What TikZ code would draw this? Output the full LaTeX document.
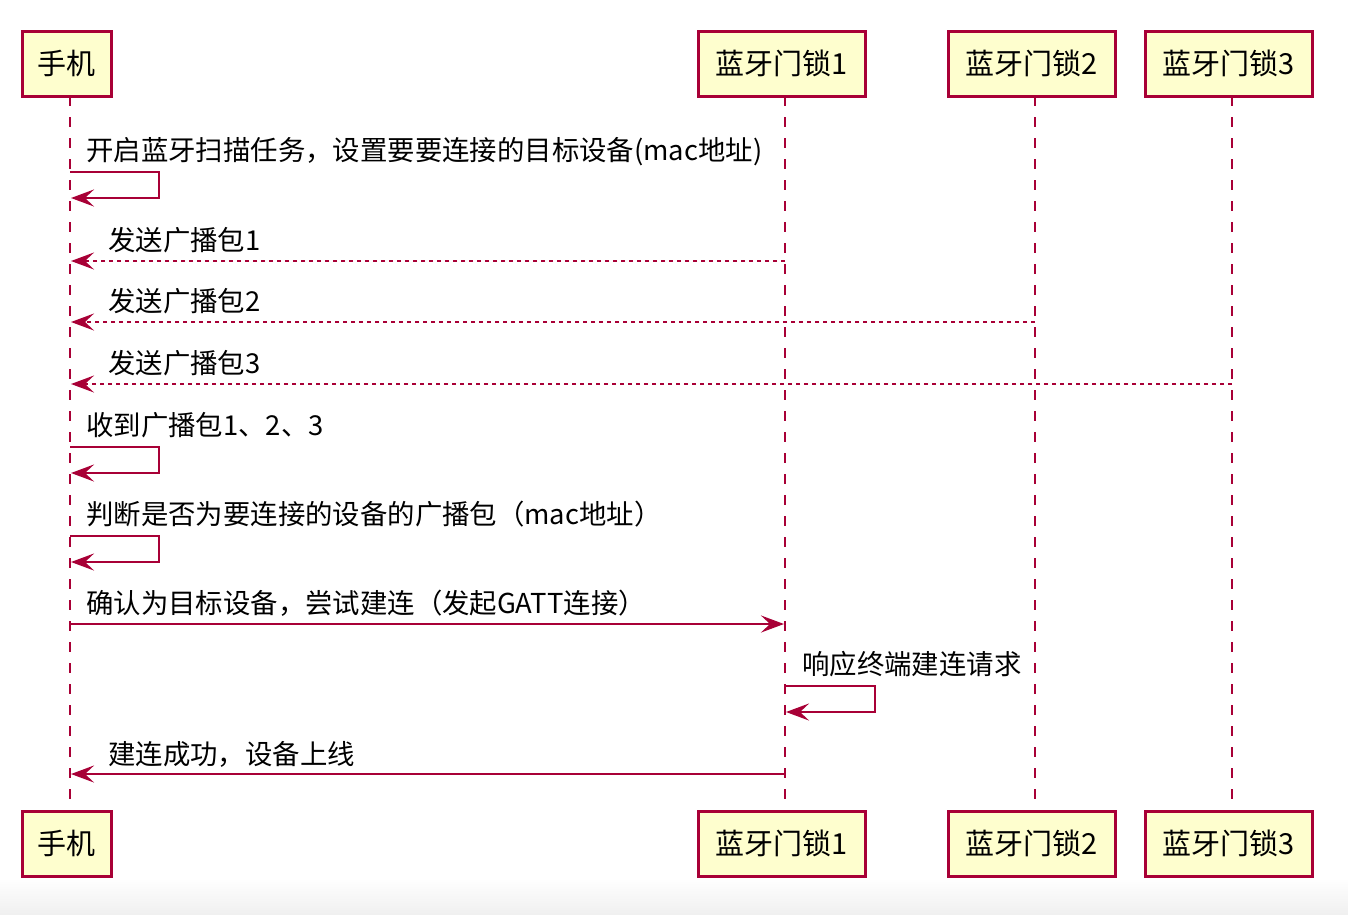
\documentclass[tikz,border=0pt]{standalone}
\usepackage{fontspec}
\setmainfont{Noto Sans CJK SC}
\usetikzlibrary{arrows.meta}
\definecolor{umlred}{HTML}{A80036}
\definecolor{umlfill}{HTML}{FEFECE}
\tikzset{
  actorbox/.style={draw=umlred, line width=3pt, fill=umlfill, minimum width=89pt, minimum height=65pt, inner sep=0pt, font=\fontsize{29}{32}\selectfont},
  lifeline/.style={draw=umlred, line width=2.6pt, dash pattern=on 10pt off 11pt},
  msgtip/.style={-{Stealth[length=23pt,width=17pt,inset=9pt]}},
  msg/.style={draw=umlred, line width=2.6pt, msgtip},
  dotmsg/.style={draw=umlred, line width=2.4pt, dash pattern=on 4pt off 4pt, msgtip},
  msglabel/.style={anchor=base west, inner sep=0pt, font=\fontsize{27.4}{30}\selectfont}
}
\begin{document}
\begin{tikzpicture}[x=1pt,y=-1pt]
\useasboundingbox (0,0) rectangle (1348,914);
\shade[top color=white, bottom color=black!6] (0,878) rectangle (1348,914);
% lifeline coordinates
\coordinate (pT) at (70,96);   \coordinate (pB) at (70,811);
\coordinate (aT) at (785,96);  \coordinate (aB) at (785,811);
\coordinate (bT) at (1035,96); \coordinate (bB) at (1035,811);
\coordinate (cT) at (1232,96); \coordinate (cB) at (1232,811);
\draw[lifeline] (pT) -- (pB);
\draw[lifeline] (aT) -- (aB);
\draw[lifeline] (bT) -- (bB);
\draw[lifeline] (cT) -- (cB);
% boxes
\node[actorbox] (phoneT) at (66.5,63.5) {手机};
\node[actorbox, minimum width=167pt] (lock1T) at (781.5,63.5) {蓝牙门锁1};
\node[actorbox, minimum width=167pt] (lock2T) at (1031.5,63.5) {蓝牙门锁2};
\node[actorbox, minimum width=167pt] (lock3T) at (1228.5,63.5) {蓝牙门锁3};
\node[actorbox] (phoneB) at (66.5,843.5) {手机};
\node[actorbox, minimum width=167pt] (lock1B) at (781.5,843.5) {蓝牙门锁1};
\node[actorbox, minimum width=167pt] (lock2B) at (1031.5,843.5) {蓝牙门锁2};
\node[actorbox, minimum width=167pt] (lock3B) at (1228.5,843.5) {蓝牙门锁3};
% message 1: self
\node[msglabel] (m1) at (86,160) {开启蓝牙扫描任务，设置要要连接的目标设备(mac地址)};
\coordinate (s1a) at (70,172); \coordinate (s1b) at (159,172);
\coordinate (s1c) at (159,198); \coordinate (s1d) at (71,198);
\draw[msg] (s1a) -- (s1b) -- (s1c) -- (s1d);
% broadcast packets
\node[msglabel] (m2) at (108,250) {发送广播包1};
\coordinate (d1s) at (785,261); \coordinate (d1e) at (71,261);
\draw[dotmsg] (d1s) -- (d1e);
\node[msglabel] (m3) at (108,311) {发送广播包2};
\coordinate (d2s) at (1035,322); \coordinate (d2e) at (71,322);
\draw[dotmsg] (d2s) -- (d2e);
\node[msglabel] (m4) at (108,373) {发送广播包3};
\coordinate (d3s) at (1232,384); \coordinate (d3e) at (71,384);
\draw[dotmsg] (d3s) -- (d3e);
% self 2
\node[msglabel] (m5) at (86,435) {收到广播包1、2、3};
\coordinate (s2a) at (70,447); \coordinate (s2b) at (159,447);
\coordinate (s2c) at (159,473); \coordinate (s2d) at (71,473);
\draw[msg] (s2a) -- (s2b) -- (s2c) -- (s2d);
% self 3
\node[msglabel] (m6) at (86,524) {判断是否为要连接的设备的广播包（mac地址）};
\coordinate (s3a) at (70,536); \coordinate (s3b) at (159,536);
\coordinate (s3c) at (159,562); \coordinate (s3d) at (71,562);
\draw[msg] (s3a) -- (s3b) -- (s3c) -- (s3d);
% connect
\node[msglabel] (m7) at (86,613) {确认为目标设备，尝试建连（发起GATT连接）};
\coordinate (c1s) at (70,624); \coordinate (c1e) at (784,624);
\draw[msg] (c1s) -- (c1e);
% lock self
\node[msglabel] (m8) at (802,674) {响应终端建连请求};
\coordinate (s4a) at (785,686); \coordinate (s4b) at (875,686);
\coordinate (s4c) at (875,712); \coordinate (s4d) at (786,712);
\draw[msg] (s4a) -- (s4b) -- (s4c) -- (s4d);
% success
\node[msglabel] (m9) at (108,764) {建连成功，设备上线};
\coordinate (r1s) at (785,774); \coordinate (r1e) at (71,774);
\draw[msg] (r1s) -- (r1e);
\end{tikzpicture}
\end{document}
